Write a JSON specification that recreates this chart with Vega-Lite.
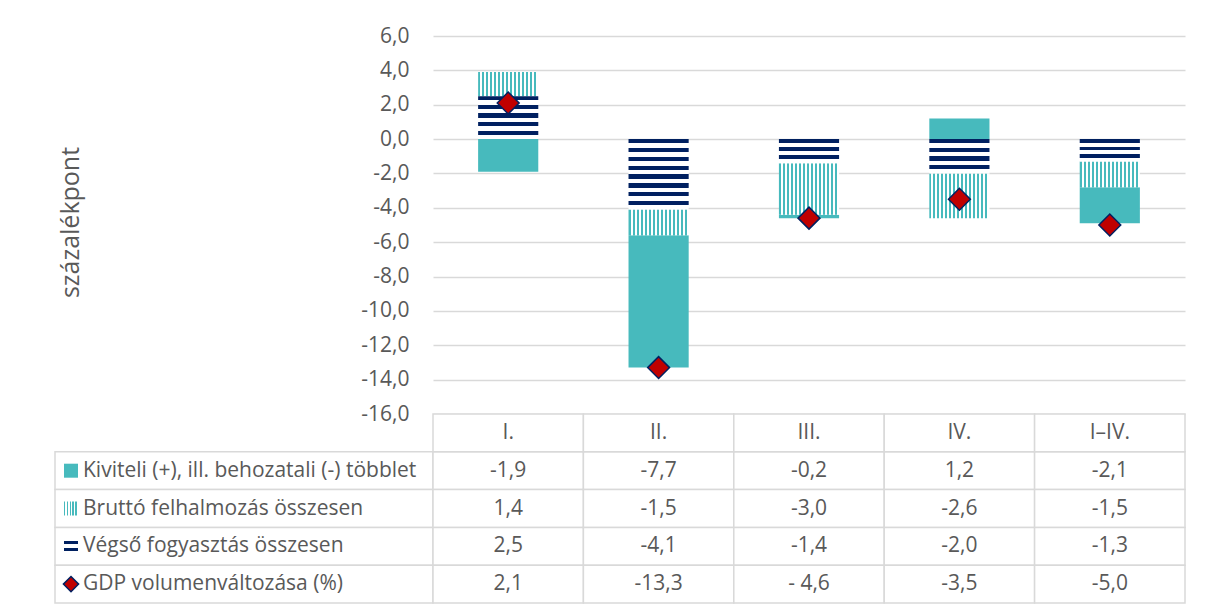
{
  "$schema": "https://vega.github.io/schema/vega-lite/v6.json",
  "background": "white",
  "padding": {"left": 54, "top": 25, "right": 5, "bottom": 5},
  "config": {
    "view": {"stroke": null},
    "font": "Open Sans",
    "locale": {"number": {"decimal": ",", "thousands": " ", "grouping": [3], "currency": ["", ""], "minus": "-"}}
  },
  "datasets": {
    "d": [
      {"cat": "I.", "series": "Kiviteli (+), ill. behozatali (-) többlet", "value": -1.9, "txt": "-1,9"},
      {"cat": "I.", "series": "Bruttó felhalmozás összesen", "value": 1.4, "txt": "1,4"},
      {"cat": "I.", "series": "Végső fogyasztás összesen", "value": 2.5, "txt": "2,5"},
      {"cat": "I.", "series": "GDP volumenváltozása (%)", "value": 2.1, "txt": "2,1"},
      {"cat": "II.", "series": "Kiviteli (+), ill. behozatali (-) többlet", "value": -7.7, "txt": "-7,7"},
      {"cat": "II.", "series": "Bruttó felhalmozás összesen", "value": -1.5, "txt": "-1,5"},
      {"cat": "II.", "series": "Végső fogyasztás összesen", "value": -4.1, "txt": "-4,1"},
      {"cat": "II.", "series": "GDP volumenváltozása (%)", "value": -13.3, "txt": "-13,3"},
      {"cat": "III.", "series": "Kiviteli (+), ill. behozatali (-) többlet", "value": -0.2, "txt": "-0,2"},
      {"cat": "III.", "series": "Bruttó felhalmozás összesen", "value": -3.0, "txt": "-3,0"},
      {"cat": "III.", "series": "Végső fogyasztás összesen", "value": -1.4, "txt": "-1,4"},
      {"cat": "III.", "series": "GDP volumenváltozása (%)", "value": -4.6, "txt": "- 4,6"},
      {"cat": "IV.", "series": "Kiviteli (+), ill. behozatali (-) többlet", "value": 1.2, "txt": "1,2"},
      {"cat": "IV.", "series": "Bruttó felhalmozás összesen", "value": -2.6, "txt": "-2,6"},
      {"cat": "IV.", "series": "Végső fogyasztás összesen", "value": -2.0, "txt": "-2,0"},
      {"cat": "IV.", "series": "GDP volumenváltozása (%)", "value": -3.5, "txt": "-3,5"},
      {"cat": "I–IV.", "series": "Kiviteli (+), ill. behozatali (-) többlet", "value": -2.1, "txt": "-2,1"},
      {"cat": "I–IV.", "series": "Bruttó felhalmozás összesen", "value": -1.5, "txt": "-1,5"},
      {"cat": "I–IV.", "series": "Végső fogyasztás összesen", "value": -1.3, "txt": "-1,3"},
      {"cat": "I–IV.", "series": "GDP volumenváltozása (%)", "value": -5.0, "txt": "-5,0"}
    ]
  },
  "columns": 2,
  "spacing": 0,
  "bounds": "flush",
  "align": "each",
  "concat": [
    {
      "width": 378, "height": 378,
      "data": {"values": [{}]},
      "mark": {"type": "text"},
      "encoding": {"text": {"value": ""}}
    },
    {
      "width": 752, "height": 378,
      "data": {"name": "d"},
      "layer": [
        {
          "transform": [
            {"filter": "datum.series !== 'GDP volumenváltozása (%)'"},
            {"calculate": "indexof(['Végső fogyasztás összesen','Bruttó felhalmozás összesen','Kiviteli (+), ill. behozatali (-) többlet'], datum.series)", "as": "ord"}
          ],
          "mark": {"type": "bar"},
          "encoding": {
            "x": {"field": "cat", "type": "nominal", "scale": {"domain": ["I.", "II.", "III.", "IV.", "I–IV."], "paddingInner": 0.6, "paddingOuter": 0.3}, "axis": null},
            "y": {"field": "value", "type": "quantitative", "stack": "zero",
              "scale": {"domain": [-16, 6], "nice": false, "zero": false},
              "axis": {"values": [-16, -14, -12, -10, -8, -6, -4, -2, 0, 2, 4, 6], "tickCount": 12, "format": ".1f", "labelOverlap": false, "grid": true, "gridColor": "#D9D9D9", "gridWidth": 1.5, "domain": false, "ticks": false, "tickSize": 0, "labelPadding": 24, "labelFontSize": 21, "labelColor": "#595959", "labelFont": "Open Sans",
                "title": "százalékpont", "titleX": -363, "titleY": 186, "titleAngle": -90, "titleAlign": "center", "titleBaseline": "middle", "titleFontSize": 25, "titleFontWeight": "normal", "titleColor": "#595959", "titleFont": "Open Sans"}},
            "order": {"field": "ord", "type": "quantitative"},
            "fill": {
              "condition": [
                {"test": "datum.series === 'Kiviteli (+), ill. behozatali (-) többlet'", "value": "#47BABD"},
                {"test": "datum.series === 'Bruttó felhalmozás összesen'", "value": {"gradient": "linear", "x1": 0, "y1": 0, "x2": 1, "y2": 0, "stops": [
                  {"offset": 0, "color": "#47BABD"}, {"offset": 0.0333, "color": "#47BABD"}, {"offset": 0.0333, "color": "#ffffff"}, {"offset": 0.0667, "color": "#ffffff"},
                  {"offset": 0.0667, "color": "#47BABD"}, {"offset": 0.1, "color": "#47BABD"}, {"offset": 0.1, "color": "#ffffff"}, {"offset": 0.1333, "color": "#ffffff"},
                  {"offset": 0.1333, "color": "#47BABD"}, {"offset": 0.1667, "color": "#47BABD"}, {"offset": 0.1667, "color": "#ffffff"}, {"offset": 0.2, "color": "#ffffff"},
                  {"offset": 0.2, "color": "#47BABD"}, {"offset": 0.2333, "color": "#47BABD"}, {"offset": 0.2333, "color": "#ffffff"}, {"offset": 0.2667, "color": "#ffffff"},
                  {"offset": 0.2667, "color": "#47BABD"}, {"offset": 0.3, "color": "#47BABD"}, {"offset": 0.3, "color": "#ffffff"}, {"offset": 0.3333, "color": "#ffffff"},
                  {"offset": 0.3333, "color": "#47BABD"}, {"offset": 0.3667, "color": "#47BABD"}, {"offset": 0.3667, "color": "#ffffff"}, {"offset": 0.4, "color": "#ffffff"},
                  {"offset": 0.4, "color": "#47BABD"}, {"offset": 0.4333, "color": "#47BABD"}, {"offset": 0.4333, "color": "#ffffff"}, {"offset": 0.4667, "color": "#ffffff"},
                  {"offset": 0.4667, "color": "#47BABD"}, {"offset": 0.5, "color": "#47BABD"}, {"offset": 0.5, "color": "#ffffff"}, {"offset": 0.5333, "color": "#ffffff"},
                  {"offset": 0.5333, "color": "#47BABD"}, {"offset": 0.5667, "color": "#47BABD"}, {"offset": 0.5667, "color": "#ffffff"}, {"offset": 0.6, "color": "#ffffff"},
                  {"offset": 0.6, "color": "#47BABD"}, {"offset": 0.6333, "color": "#47BABD"}, {"offset": 0.6333, "color": "#ffffff"}, {"offset": 0.6667, "color": "#ffffff"},
                  {"offset": 0.6667, "color": "#47BABD"}, {"offset": 0.7, "color": "#47BABD"}, {"offset": 0.7, "color": "#ffffff"}, {"offset": 0.7333, "color": "#ffffff"},
                  {"offset": 0.7333, "color": "#47BABD"}, {"offset": 0.7667, "color": "#47BABD"}, {"offset": 0.7667, "color": "#ffffff"}, {"offset": 0.8, "color": "#ffffff"},
                  {"offset": 0.8, "color": "#47BABD"}, {"offset": 0.8333, "color": "#47BABD"}, {"offset": 0.8333, "color": "#ffffff"}, {"offset": 0.8667, "color": "#ffffff"},
                  {"offset": 0.8667, "color": "#47BABD"}, {"offset": 0.9, "color": "#47BABD"}, {"offset": 0.9, "color": "#ffffff"}, {"offset": 0.9333, "color": "#ffffff"},
                  {"offset": 0.9333, "color": "#47BABD"}, {"offset": 0.9667, "color": "#47BABD"}, {"offset": 0.9667, "color": "#ffffff"}, {"offset": 1, "color": "#ffffff"}
                ]}},
                {"test": "datum.cat === 'I.'", "value": {"gradient": "linear", "x1": 0, "y1": 0, "x2": 0, "y2": 1, "stops": [
                  {"offset": 0, "color": "#002060"}, {"offset": 0.1, "color": "#002060"}, {"offset": 0.1, "color": "#ffffff"}, {"offset": 0.2, "color": "#ffffff"},
                  {"offset": 0.2, "color": "#002060"}, {"offset": 0.3, "color": "#002060"}, {"offset": 0.3, "color": "#ffffff"}, {"offset": 0.4, "color": "#ffffff"},
                  {"offset": 0.4, "color": "#002060"}, {"offset": 0.5, "color": "#002060"}, {"offset": 0.5, "color": "#ffffff"}, {"offset": 0.6, "color": "#ffffff"},
                  {"offset": 0.6, "color": "#002060"}, {"offset": 0.7, "color": "#002060"}, {"offset": 0.7, "color": "#ffffff"}, {"offset": 0.8, "color": "#ffffff"},
                  {"offset": 0.8, "color": "#002060"}, {"offset": 0.9, "color": "#002060"}, {"offset": 0.9, "color": "#ffffff"}, {"offset": 1, "color": "#ffffff"}
                ]}},
                {"test": "datum.cat === 'II.'", "value": {"gradient": "linear", "x1": 0, "y1": 0, "x2": 0, "y2": 1, "stops": [
                  {"offset": 0, "color": "#002060"}, {"offset": 0.0625, "color": "#002060"}, {"offset": 0.0625, "color": "#ffffff"}, {"offset": 0.125, "color": "#ffffff"},
                  {"offset": 0.125, "color": "#002060"}, {"offset": 0.1875, "color": "#002060"}, {"offset": 0.1875, "color": "#ffffff"}, {"offset": 0.25, "color": "#ffffff"},
                  {"offset": 0.25, "color": "#002060"}, {"offset": 0.3125, "color": "#002060"}, {"offset": 0.3125, "color": "#ffffff"}, {"offset": 0.375, "color": "#ffffff"},
                  {"offset": 0.375, "color": "#002060"}, {"offset": 0.4375, "color": "#002060"}, {"offset": 0.4375, "color": "#ffffff"}, {"offset": 0.5, "color": "#ffffff"},
                  {"offset": 0.5, "color": "#002060"}, {"offset": 0.5625, "color": "#002060"}, {"offset": 0.5625, "color": "#ffffff"}, {"offset": 0.625, "color": "#ffffff"},
                  {"offset": 0.625, "color": "#002060"}, {"offset": 0.6875, "color": "#002060"}, {"offset": 0.6875, "color": "#ffffff"}, {"offset": 0.75, "color": "#ffffff"},
                  {"offset": 0.75, "color": "#002060"}, {"offset": 0.8125, "color": "#002060"}, {"offset": 0.8125, "color": "#ffffff"}, {"offset": 0.875, "color": "#ffffff"},
                  {"offset": 0.875, "color": "#002060"}, {"offset": 0.9375, "color": "#002060"}, {"offset": 0.9375, "color": "#ffffff"}, {"offset": 1, "color": "#ffffff"}
                ]}},
                {"test": "datum.cat === 'IV.'", "value": {"gradient": "linear", "x1": 0, "y1": 0, "x2": 0, "y2": 1, "stops": [
                  {"offset": 0, "color": "#002060"}, {"offset": 0.125, "color": "#002060"}, {"offset": 0.125, "color": "#ffffff"}, {"offset": 0.25, "color": "#ffffff"},
                  {"offset": 0.25, "color": "#002060"}, {"offset": 0.375, "color": "#002060"}, {"offset": 0.375, "color": "#ffffff"}, {"offset": 0.5, "color": "#ffffff"},
                  {"offset": 0.5, "color": "#002060"}, {"offset": 0.625, "color": "#002060"}, {"offset": 0.625, "color": "#ffffff"}, {"offset": 0.75, "color": "#ffffff"},
                  {"offset": 0.75, "color": "#002060"}, {"offset": 0.875, "color": "#002060"}, {"offset": 0.875, "color": "#ffffff"}, {"offset": 1, "color": "#ffffff"}
                ]}}
              ],
              "value": {"gradient": "linear", "x1": 0, "y1": 0, "x2": 0, "y2": 1, "stops": [
                {"offset": 0, "color": "#002060"}, {"offset": 0.1667, "color": "#002060"}, {"offset": 0.1667, "color": "#ffffff"}, {"offset": 0.3333, "color": "#ffffff"},
                {"offset": 0.3333, "color": "#002060"}, {"offset": 0.5, "color": "#002060"}, {"offset": 0.5, "color": "#ffffff"}, {"offset": 0.6667, "color": "#ffffff"},
                {"offset": 0.6667, "color": "#002060"}, {"offset": 0.8333, "color": "#002060"}, {"offset": 0.8333, "color": "#ffffff"}, {"offset": 1, "color": "#ffffff"}
              ]}
            }
          }
        },
        {
          "transform": [{"filter": "datum.series === 'GDP volumenváltozása (%)'"}],
          "mark": {"type": "point", "shape": "diamond", "filled": true, "fill": "#C00000", "stroke": "#002060", "strokeWidth": 1.5, "size": 480, "opacity": 1},
          "encoding": {
            "x": {"field": "cat", "type": "nominal"},
            "y": {"field": "value", "type": "quantitative",
              "axis": {"values": [-16, -14, -12, -10, -8, -6, -4, -2, 0, 2, 4, 6], "tickCount": 12, "format": ".1f", "labelOverlap": false, "grid": true, "gridColor": "#D9D9D9", "gridWidth": 1.5, "domain": false, "ticks": false, "tickSize": 0, "labelPadding": 24, "labelFontSize": 21, "labelColor": "#595959", "labelFont": "Open Sans",
                "title": "százalékpont", "titleX": -363, "titleY": 186, "titleAngle": -90, "titleAlign": "center", "titleBaseline": "middle", "titleFontSize": 25, "titleFontWeight": "normal", "titleColor": "#595959", "titleFont": "Open Sans"}}
          }
        }
      ]
    },
    {
      "width": 378, "height": 189,
      "data": {"name": "d"},
      "transform": [{"filter": "datum.cat === 'I.'"}],
      "layer": [
        {
          "mark": {"type": "rect", "fill": "#ffffff", "stroke": "#D9D9D9", "strokeWidth": 1.5},
          "encoding": {
            "y": {"field": "series", "type": "nominal", "scale": {"type": "band", "domain": ["hdr", "Kiviteli (+), ill. behozatali (-) többlet", "Bruttó felhalmozás összesen", "Végső fogyasztás összesen", "GDP volumenváltozása (%)"], "paddingInner": 0, "paddingOuter": 0}, "axis": null}
          }
        },
        {
          "mark": {"type": "point", "filled": true, "opacity": 1, "stroke": "#002060"},
          "encoding": {
            "x": {"datum": "sym", "type": "nominal", "scale": {"type": "point", "domain": ["sym", "txt"], "range": [16, 28], "padding": 0}, "axis": null},
            "y": {"field": "series", "type": "nominal"},
            "shape": {"condition": {"test": "datum.series === 'GDP volumenváltozása (%)'", "value": "diamond"}, "value": "square"},
            "size": {"condition": {"test": "datum.series === 'GDP volumenváltozása (%)'", "value": 230}, "value": 196},
            "strokeWidth": {"condition": {"test": "datum.series === 'GDP volumenváltozása (%)'", "value": 1.5}, "value": 0},
            "fill": {
              "condition": [
                {"test": "datum.series === 'Kiviteli (+), ill. behozatali (-) többlet'", "value": "#47BABD"},
                {"test": "datum.series === 'Bruttó felhalmozás összesen'", "value": {"gradient": "linear", "x1": 0, "y1": 0, "x2": 1, "y2": 0, "stops": [
                  {"offset": 0, "color": "#47BABD"}, {"offset": 0.1, "color": "#47BABD"}, {"offset": 0.1, "color": "#ffffff"}, {"offset": 0.2, "color": "#ffffff"},
                  {"offset": 0.2, "color": "#47BABD"}, {"offset": 0.3, "color": "#47BABD"}, {"offset": 0.3, "color": "#ffffff"}, {"offset": 0.4, "color": "#ffffff"},
                  {"offset": 0.4, "color": "#47BABD"}, {"offset": 0.5, "color": "#47BABD"}, {"offset": 0.5, "color": "#ffffff"}, {"offset": 0.6, "color": "#ffffff"},
                  {"offset": 0.6, "color": "#47BABD"}, {"offset": 0.7, "color": "#47BABD"}, {"offset": 0.7, "color": "#ffffff"}, {"offset": 0.8, "color": "#ffffff"},
                  {"offset": 0.8, "color": "#47BABD"}, {"offset": 0.9, "color": "#47BABD"}, {"offset": 0.9, "color": "#ffffff"}, {"offset": 1, "color": "#ffffff"}
                ]}},
                {"test": "datum.series === 'Végső fogyasztás összesen'", "value": {"gradient": "linear", "x1": 0, "y1": 0, "x2": 0, "y2": 1, "stops": [
                  {"offset": 0, "color": "#ffffff"}, {"offset": 0.12, "color": "#ffffff"}, {"offset": 0.12, "color": "#002060"}, {"offset": 0.36, "color": "#002060"},
                  {"offset": 0.36, "color": "#ffffff"}, {"offset": 0.62, "color": "#ffffff"}, {"offset": 0.62, "color": "#002060"}, {"offset": 0.86, "color": "#002060"},
                  {"offset": 0.86, "color": "#ffffff"}, {"offset": 1, "color": "#ffffff"}
                ]}}
              ],
              "value": "#C00000"
            }
          }
        },
        {
          "mark": {"type": "text", "align": "left", "baseline": "middle", "fontSize": 21, "font": "Open Sans", "color": "#595959"},
          "encoding": {
            "x": {"datum": "txt", "type": "nominal"},
            "y": {"field": "series", "type": "nominal"},
            "text": {"field": "series"}
          }
        }
      ]
    },
    {
      "width": 752, "height": 189,
      "data": {"name": "d"},
      "layer": [
        {
          "mark": {"type": "rect", "fill": "#ffffff", "stroke": "#D9D9D9", "strokeWidth": 1.5},
          "encoding": {
            "x": {"field": "cat", "type": "nominal", "scale": {"type": "band", "domain": ["I.", "II.", "III.", "IV.", "I–IV."], "paddingInner": 0, "paddingOuter": 0}, "axis": null},
            "y": {"field": "series", "type": "nominal", "scale": {"type": "band", "domain": ["hdr", "Kiviteli (+), ill. behozatali (-) többlet", "Bruttó felhalmozás összesen", "Végső fogyasztás összesen", "GDP volumenváltozása (%)"], "paddingInner": 0, "paddingOuter": 0}, "axis": null}
          }
        },
        {
          "transform": [{"filter": "datum.series === 'GDP volumenváltozása (%)'"}],
          "mark": {"type": "rect", "fill": "#ffffff", "stroke": "#D9D9D9", "strokeWidth": 1.5},
          "encoding": {
            "x": {"field": "cat", "type": "nominal"},
            "y": {"datum": "hdr", "type": "nominal"}
          }
        },
        {
          "mark": {"type": "text", "align": "center", "baseline": "middle", "fontSize": 21, "font": "Open Sans", "color": "#595959"},
          "encoding": {
            "x": {"field": "cat", "type": "nominal"},
            "y": {"field": "series", "type": "nominal"},
            "text": {"field": "txt"}
          }
        },
        {
          "transform": [{"filter": "datum.series === 'GDP volumenváltozása (%)'"}],
          "mark": {"type": "text", "align": "center", "baseline": "middle", "fontSize": 21, "font": "Open Sans", "color": "#595959"},
          "encoding": {
            "x": {"field": "cat", "type": "nominal"},
            "y": {"datum": "hdr", "type": "nominal"},
            "text": {"field": "cat"}
          }
        }
      ]
    }
  ]
}
